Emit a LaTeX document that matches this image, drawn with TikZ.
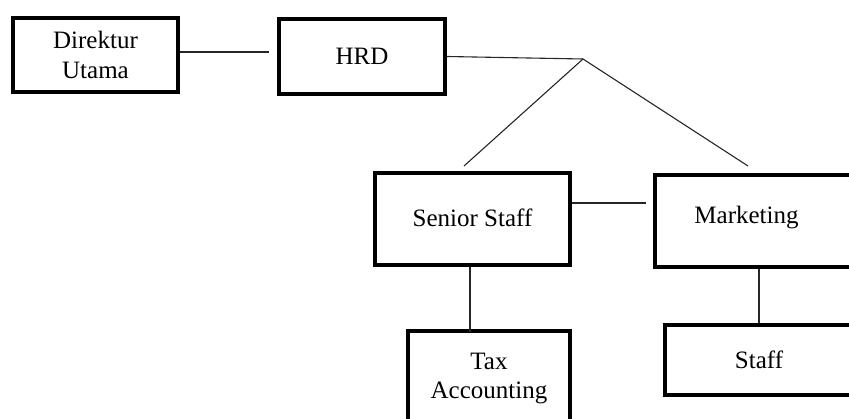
\documentclass[tikz,border=0pt]{standalone}
\usepackage{fontspec}
\setmainfont{Liberation Serif}

\tikzset{
  kotak/.style={draw,rectangle,line width=4pt,inner sep=0pt,align=center,font=\fontsize{25}{29.5}\selectfont},
  teks/.style={inner sep=0pt,font=\fontsize{25}{29.5}\selectfont},
  garis/.style={draw=black!85,line width=1.1pt}
}

\begin{document}
\begin{tikzpicture}[x=1pt,y=-1pt]
  \useasboundingbox (0,0) rectangle (849,419);
  \clip (0,0) rectangle (849,419);
  % kotak jabatan
  \node[kotak,minimum width=165pt,minimum height=74pt] (direktur) at (95.5,55) {Direktur\\Utama};
  \node[kotak,minimum width=166pt,minimum height=75pt] (hrd) at (362,56.5) {HRD};
  \node[kotak,minimum width=195pt,minimum height=92pt] (senior) at (472.5,219) {\raisebox{3pt}{Senior Staff}};
  \node[kotak,minimum width=250pt,minimum height=92pt,anchor=north west] (marketing) at (653,173) {};
  \node[teks,anchor=base] (tulisanmkt) at (746.5,224) {Marketing};
  \node[kotak,minimum width=162pt,minimum height=95pt] (tax) at (489,378.5) {Tax\\Accounting};
  \node[kotak,minimum width=188pt,minimum height=70pt] (staff) at (759,360) {Staff};
  % garis penghubung
  \coordinate (ujungdir) at (269,52);
  \coordinate (puncak) at (583,59);
  \coordinate (kiri) at (464,166);
  \coordinate (kanan) at (748,166);
  \coordinate (ujungss) at (646,203);
  \coordinate (ujungtax) at (470,332);
  \draw[garis] (direktur.east |- ujungdir) -- (ujungdir);
  \draw[garis] (hrd.east) -- (puncak);
  \draw[garis] (kiri) -- (puncak) -- (kanan);
  \draw[garis] (senior.east |- ujungss) -- (ujungss);
  \draw[garis] (senior.south -| ujungtax) -- (ujungtax);
  \draw[garis] (staff.north) -- (staff.north |- marketing.south);
\end{tikzpicture}
\end{document}
